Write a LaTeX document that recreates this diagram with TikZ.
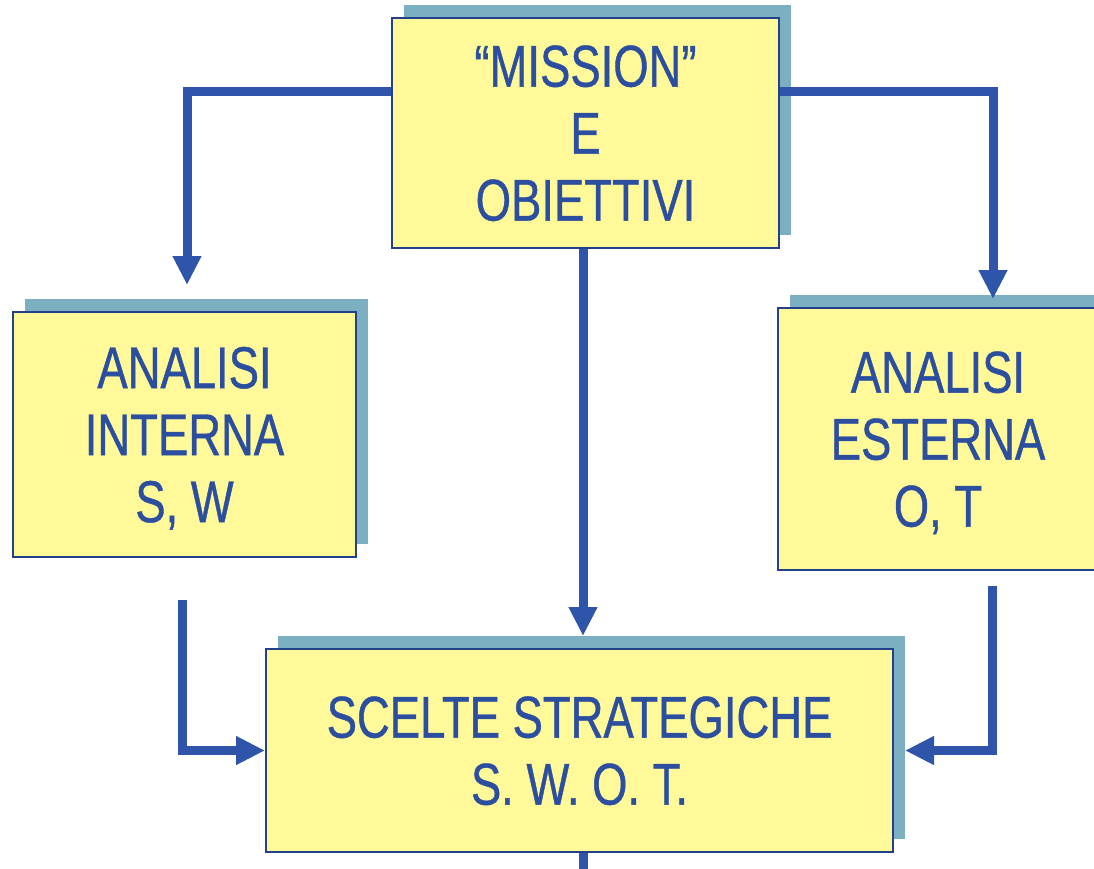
\documentclass[tikz,border=0pt]{standalone}
\usepackage{fontspec}
\setmainfont[FakeStretch=0.77,FakeBold=0.7]{Liberation Sans}
\usetikzlibrary{arrows.meta,shadows}
\definecolor{boxfill}{HTML}{FFF99A}
\definecolor{boxline}{HTML}{23408A}
\definecolor{shadowblue}{HTML}{7DAFC3}
\definecolor{txtblue}{HTML}{2B4E9E}
\definecolor{arrblue}{HTML}{2F55AA}
\begin{document}
\begin{tikzpicture}[x=1pt,y=-1pt,
  sbox/.style={draw=boxline, line width=2pt, fill=boxfill, text=txtblue,
     align=center, inner sep=0pt, text depth=0pt,
     font=\fontsize{59}{67}\selectfont,
     general shadow={fill=shadowblue, shadow xshift=12pt, shadow yshift=13pt}},
  flow/.style={draw=arrblue, line width=9pt, -{Triangle[width=27pt,length=29pt]}},
  plainline/.style={draw=arrblue, line width=9pt}]
\fill[white] (0,0) rectangle (1094,869);
\useasboundingbox (0,0) rectangle (1094,869);

\node[sbox, minimum width=387pt, minimum height=230pt] (top) at (585.5,133) {“MISSION”\\E\\OBIETTIVI};
\node[sbox, minimum width=343pt, minimum height=245pt] (left) at (184.5,434.5) {ANALISI\\INTERNA\\S, W};
\node[sbox, minimum width=320pt, minimum height=262pt] (right) at (938,439) {ANALISI\\ESTERNA\\O, T};
\node[sbox, minimum width=627pt, minimum height=203pt] (swot) at (579.5,750.5) {SCELTE STRATEGICHE\\S. W. O. T.};

\draw[flow] ([yshift=41pt]top.west) -| ([xshift=2.5pt,yshift=26pt]left.north);
\draw[flow] ([yshift=41pt]top.east) -| ([xshift=55pt,yshift=8pt]right.north);
\draw[flow] ([xshift=-2.5pt]top.south) -- ([xshift=3.5pt,yshift=12pt]swot.north);
\draw[flow] ([xshift=-2.5pt,yshift=-42pt]left.south) |- (swot.west);
\draw[flow] ([xshift=54pt,yshift=-15pt]right.south) |- ([xshift=11pt]swot.east);
\coordinate (exit) at (583,875);
\draw[plainline] (swot.south -| exit) -- (exit);
\end{tikzpicture}
\end{document}
